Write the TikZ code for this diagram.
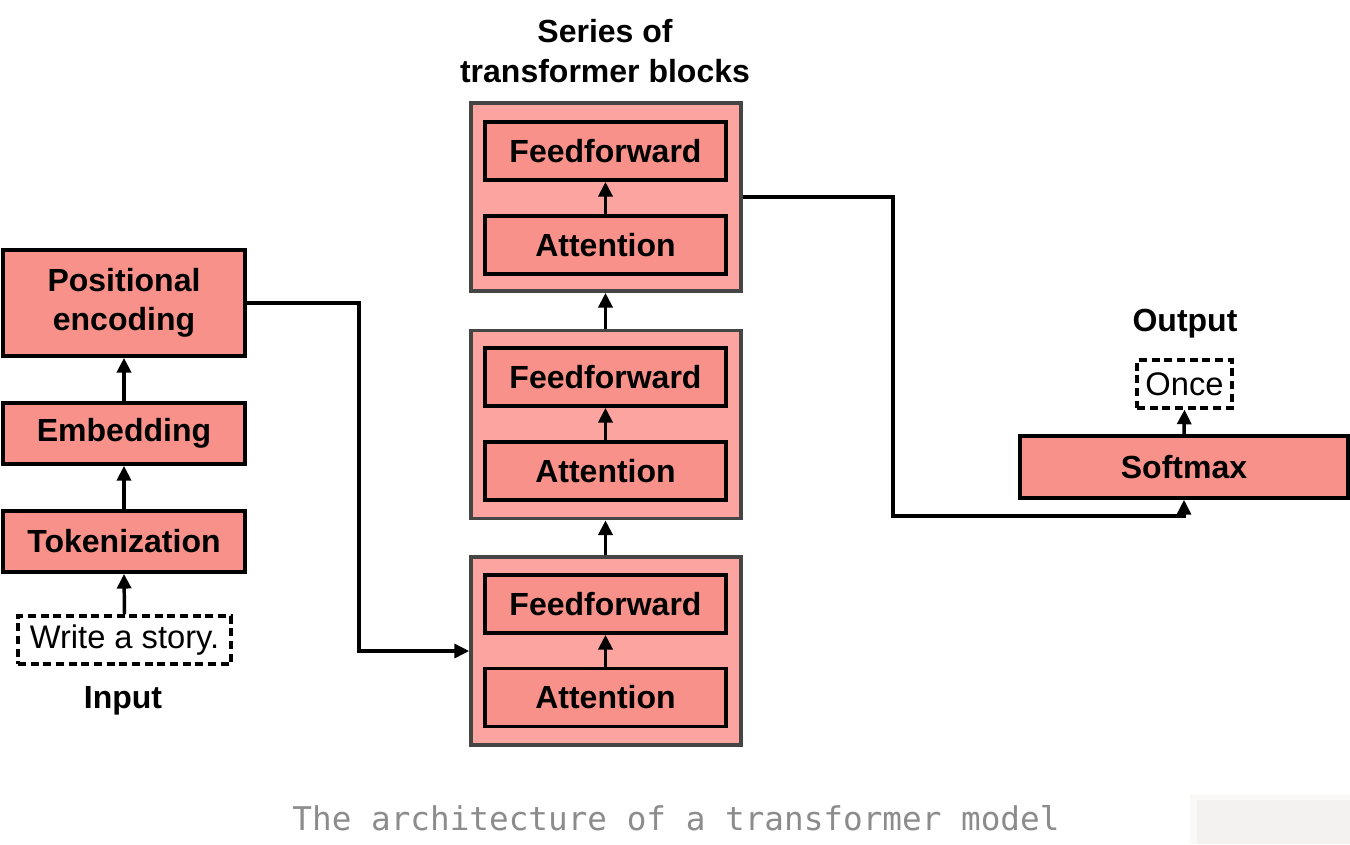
\documentclass[tikz,border=0pt]{standalone}
\usepackage{fontspec}
\setmainfont{Liberation Sans}
\newfontfamily\capfont{DejaVu Sans Mono}
\usetikzlibrary{arrows.meta}
\definecolor{inner}{HTML}{F8918A}
\definecolor{outer}{HTML}{FCA49F}
\definecolor{outerline}{HTML}{454545}
\definecolor{capgray}{HTML}{8C8C8C}
\definecolor{cornergray}{HTML}{F3F2F0}
\definecolor{cornerhalo}{HTML}{FAF9F8}
\tikzset{
  box/.style={draw=black, line width=2.8pt, fill=inner, inner sep=0pt, align=center,
    font=\fontsize{24}{29}\selectfont\bfseries},
  inbox/.style={box, minimum width=180.75pt, minimum height=43.5pt},
  outbox/.style={draw=outerline, line width=2.8pt, fill=outer, inner sep=0pt,
    minimum width=202.5pt, minimum height=141pt},
  dbox/.style={draw=black, line width=2.4pt, dash pattern=on 6pt off 3.5pt, inner sep=0pt,
    font=\fontsize{24.5}{29}\selectfont},
  lbl/.style={font=\fontsize{24}{30}\selectfont\bfseries, align=center, inner sep=0pt},
  arr/.style={line width=2.6pt, -{Triangle[length=11pt,width=10.5pt]}},
  conn/.style={line width=2.3pt, -{Triangle[length=11pt,width=10.5pt]}}
}
\begin{document}
\begin{tikzpicture}[x=0.75pt, y=-0.75pt]
\useasboundingbox (0,0) rectangle (1350,844);
\fill[white] (0,0) rectangle (1350,844);
\fill[cornerhalo] (1190,794) rectangle (1350,844);
\fill[cornergray] (1197,800) rectangle (1350,844);

% left column
\node[box, minimum width=181.5pt, minimum height=79.5pt] (pos) at (124,303) {Positional\\encoding};
\node[box, minimum width=181.5pt, minimum height=45.75pt] (emb) at (124,433.5) {Embedding};
\node[box, minimum width=181.5pt, minimum height=45.75pt] (tok) at (124,541.5) {Tokenization};
\node[dbox, minimum width=159.75pt, minimum height=36pt] (inp) at (124.5,640) {Write a story.};
\node[lbl] (inlbl) at (123,701) {Input};

\draw[arr] (inp.north) -- (tok.south);
\draw[arr] (tok.north) -- (emb.south);
\draw[arr] (emb.north) -- (pos.south);

% transformer blocks
\node[lbl] (series) at (605,51) {Series of\\transformer blocks};

\node[outbox] (b1) at (606,197) {};
\node[inbox] (ff1) at (605.5,151) {Feedforward};
\node[inbox] (at1) at (605.5,245) {Attention};
\node[outbox] (b2) at (606,424.5) {};
\node[inbox] (ff2) at (605.5,377) {Feedforward};
\node[inbox] (at2) at (605.5,471) {Attention};
\node[outbox] (b3) at (606,651) {};
\node[inbox] (ff3) at (605.5,604) {Feedforward};
\node[inbox] (at3) at (605.5,697.5) {Attention};

\draw[arr] (at1.north) -- (ff1.south);
\draw[arr] (at2.north) -- (ff2.south);
\draw[arr] (at3.north) -- (ff3.south);
\draw[arr] (b3.north -| ff3.north) -- (b2.south -| ff3.north);
\draw[arr] (b2.north -| ff3.north) -- (b1.south -| ff3.north);

% output side
\node[box, minimum width=246pt, minimum height=46.5pt] (soft) at (1184,467) {Softmax};
\node[dbox, minimum width=71.25pt, minimum height=36pt] (once) at (1184.5,384) {Once};
\node[lbl] (outlbl) at (1185,324) {Output};
\draw[arr] (soft.north) -- (once.south);

% connectors
\coordinate (c1) at (359,303);
\coordinate (c2) at (893,516);
\draw[conn] (pos.east) -- (c1) |- (b3.west);
\draw[conn] (b1.east) -| (c2) -| (soft.south);

% caption
\node[font=\capfont\fontsize{24.5}{28}\selectfont, text=capgray, inner sep=0pt] (cap) at (676,818) {The architecture of a transformer model};
\end{tikzpicture}
\end{document}
